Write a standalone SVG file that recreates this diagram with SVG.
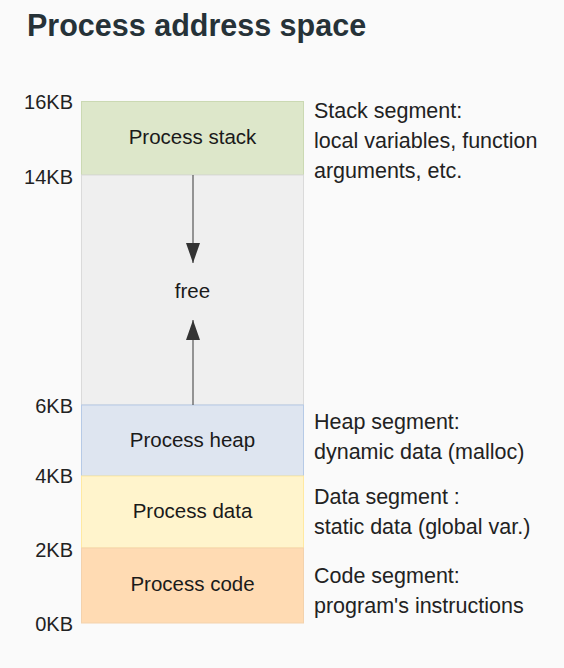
<svg xmlns="http://www.w3.org/2000/svg" width="564" height="668" viewBox="0 0 564 668">
<style>
text{font-family:"Liberation Sans",Arial,sans-serif;fill:#1a1a1a}
.t{font-size:30.5px;font-weight:bold;fill:#263238}
.lbl{font-size:20.5px;text-anchor:middle}
.ax{font-size:20px;text-anchor:end;fill:#222}
.note{font-size:21.5px;fill:#222}
.arr{stroke:#555;stroke-width:1.2;fill:none}
</style>
<defs>
<marker id="ah" markerWidth="20" markerHeight="14" refX="20" refY="7" orient="auto" markerUnits="userSpaceOnUse" viewBox="0 0 20 14">
<path d="M0,0 L20,7 L0,14 Z" fill="#333"/>
</marker>
</defs>
<rect width="564" height="668" fill="#fafafa"/>
<text class="t" x="27" y="36">Process address space</text>
<g id="stack"><rect x="81.5" y="101.5" width="222" height="73.5" fill="#dde7ca" stroke="#cbd9b3"/><text class="lbl" x="192.5" y="144">Process stack</text></g>
<g id="free"><rect x="81.5" y="175" width="222" height="230" fill="#efefef" stroke="#dadada"/><text class="lbl" x="192.5" y="298">free</text></g>
<g id="heap"><rect x="81.5" y="405" width="222" height="71" fill="#dee5f0" stroke="#b6cae6"/><text class="lbl" x="192.5" y="447">Process heap</text></g>
<g id="data"><rect x="81.5" y="476" width="222" height="72" fill="#fff4cc" stroke="#ffe9a2"/><text class="lbl" x="192.5" y="518">Process data</text></g>
<g id="code"><rect x="81.5" y="548" width="222" height="75" fill="#ffdbb3" stroke="#f3d2ad"/><text class="lbl" x="192.5" y="591">Process code</text></g>
<g id="connectors">
<line class="arr" x1="193" y1="175" x2="193" y2="263" marker-end="url(#ah)"/>
<line class="arr" x1="193" y1="405" x2="193" y2="320" marker-end="url(#ah)"/>
</g>
<g id="axis">
<text class="ax" x="73" y="109">16KB</text>
<text class="ax" x="73" y="184">14KB</text>
<text class="ax" x="73" y="413">6KB</text>
<text class="ax" x="73" y="483">4KB</text>
<text class="ax" x="73" y="557">2KB</text>
<text class="ax" x="73" y="631">0KB</text>
</g>
<g id="notes">
<text class="note" x="314" y="118">Stack segment:</text>
<text class="note" x="314" y="148">local variables, function</text>
<text class="note" x="314" y="178">arguments, etc.</text>
<text class="note" x="314" y="429">Heap segment:</text>
<text class="note" x="314" y="459">dynamic data (malloc)</text>
<text class="note" x="314" y="504">Data segment :</text>
<text class="note" x="314" y="534">static data (global var.)</text>
<text class="note" x="314" y="583">Code segment:</text>
<text class="note" x="314" y="613">program's instructions</text>
</g>
</svg>
